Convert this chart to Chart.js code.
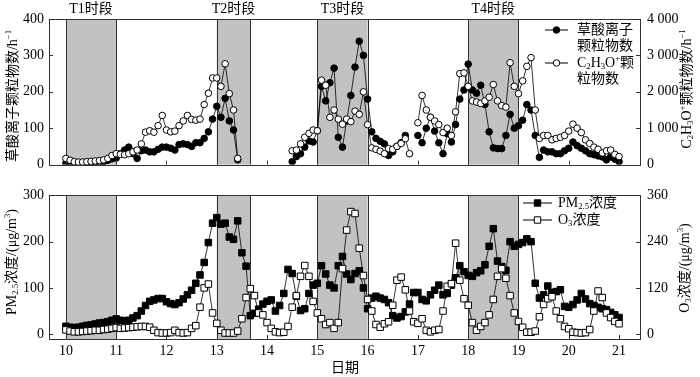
<!DOCTYPE html>
<html lang="zh">
<head>
<meta charset="UTF-8">
<title>草酸离子颗粒物数与PM2.5、O3浓度</title>
<script src="https://cdn.jsdelivr.net/npm/chart.js"></script>
<style>
  body { margin: 0; background: #fff; }
  #wrap { position: relative; width: 700px; height: 377px; }
  #topBox { position: absolute; left: 0; top: 0; width: 700px; height: 180px; }
  #botBox { position: absolute; left: 0; top: 180px; width: 700px; height: 197px; }
</style>
</head>
<body>
<div id="wrap">
  <div id="topBox"><canvas id="topChart"></canvas></div>
  <div id="botBox"><canvas id="botChart"></canvas></div>
</div>
<script>
const FAMILY = '"Liberation Serif", "Times New Roman", "Noto Sans CJK SC", serif';

// sampling: every 2 h from day 10 to day 21
const sampleDays = [10, 11, 12, 13, 14, 15, 16, 17, 18, 19, 20];
const sampleHours = [0, 2, 4, 6, 8, 10, 12, 14, 16, 18, 20, 22];
const lastTime = 21;

const dayTicks = [10, 11, 12, 13, 14, 15, 16, 17, 18, 19, 20, 21];
const periodStart = [10, 13, 15, 18];
const periodEnd = [11, 13.67, 16, 19];
const periodNames = ['T1时段', 'T2时段', 'T3时段', 'T4时段'];

const topLeftTicks = [0, 100, 200, 300, 400];
const topRightTicks = [0, 1000, 2000, 3000, 4000];
const botLeftTicks = [0, 100, 200, 300];
const botRightTicks = [0, 120, 240, 360];

// 草酸离子颗粒物数 /h-1 (left axis, top)
const oxalate = [
  4, 3, 3, 3, 4, 4, 5, 5, 6, 8, 12, 16,
  18, 30, 40, 48, 30, 17, 38, 40, 35, 35, 42, 48,
  48, 45, 40, 55, 57, 55, 50, 60, 60, 72, 90, 125,
  160, 130, 182, 120, 95, 13, null, null, null, null, null, null,
  null, null, null, null, null, null, 8, 22, 30, 48, 65, 62,
  93, 215, 175, 225, 265, 75, 48, 120, 190, 268, 339, 300,
  180, 90, 72, 64, 57, 25, 35, 50, 60, 80, null, null,
  80, 60, 100, 130, 92, 60, 30, 85, 62, 110, 180, 205,
  276, 205, 196, 218, 165, 90, 46, 44, 44, 80, 138, 100,
  107, 122, 165, 150, 80, 20, 40, 35, 35, 30, 30, 38,
  45, 62, 52, 45, 38, 30, 27, 24, 21, 13, 21, 15,
  8
];

// C2H3O+ 颗粒物数 /h-1 (right axis, top)
const c2h3o = [
  170, 120, 80, 70, 70, 80, 90, 100, 110, 130, 170, 250,
  300, 280, 270, 300, 350, 400, 570, 890, 930, 890, 1070, 1350,
  950, 900, 920, 1070, 1200, 1350, 1240, 1220, 1250, 1650, 1960, 2380,
  2380, 2150, 2770, 1950, 1500, 170, null, null, null, null, null, null,
  null, null, null, null, null, null, 380, 400, 570, 750, 860, 950,
  930, 2320, 2180, 1300, 1500, 1250, 1110, 1250, 1180, 1470, 1380, 2000,
  1100, 460, 420, 370, 300, 440, 420, 500, 580, 710, 300, null,
  1150, 1900, 1500, 1300, 1200, 1100, 880, 1000, 800, 1450, 2500, 2520,
  2150, 1750, 1720, 1680, 1750, 1850, 2200, 1750, 1620, 1580, 2800, 2150,
  1950, 2300, 2700, 2940, 1500, 720, 800, 800, 680, 720, 750, 800,
  920, 1110, 1000, 880, 680, 580, 480, 420, 320, 380, 400, 280,
  220
];

// PM2.5 浓度 μg/m3 (left axis, bottom)
const pm25 = [
  17, 15, 14, 15, 17, 19, 20, 22, 24, 25, 27, 30,
  33, 30, 29, 30, 35, 40, 50, 62, 71, 74, 77, 77,
  70, 66, 64, 68, 76, 85, 95, 110, 128, 155, 198, 240,
  252, 238, 240, 210, 205, 245, 176, 147, 40, 45, 54, 65,
  71, 74, 50, 62, 88, 140, 131, 82, 51, 55, 88, 106,
  110, 148, 130, 106, 100, 148, 168, 130, 118, 131, 137, 100,
  55, 78, 82, 78, 75, 68, 40, 35, 38, 48, 65, 90,
  90, 75, 72, 85, 95, 106, 85, 88, 106, 122, 148, 135,
  127, 125, 133, 137, 150, 190, 228, 158, 146, 138, 200, 190,
  194, 198, 206, 200, 110, 78, 85, 104, 90, 92, 96, 60,
  58, 64, 74, 88, 76, 66, 62, 58, 55, 53, 47, 42,
  36
];

// O3 浓度 μg/m3 (right axis, bottom)
const o3 = [
  11, 8, 6, 6, 7, 8, 9, 10, 10, 12, 13, 15,
  17, 15, 16, 17, 18, 19, 20, 20, 18, 10, 4, 3,
  3, 4, 10, 4, 3, 4, 15, 22, 70, 120, 130, 55,
  28, 10, 3, 3, 3, 8, 40, 95, 118, 100, 55, 50,
  30, 15, 6, 4, 5, 20, 70, 100, 150, 178, 150, 85,
  55, 40, 25, 30, 15, 30, 170, 270, 318, 313, 223, 152,
  90, 60, 25, 18, 27, 32, 75, 140, 148, 115, 60, 32,
  28, 40, 10, 6, 10, 12, 60, 124, 131, 236, 140, 92,
  75, 30, 10, 20, 30, 50, 90, 150, 170, 145, 100, 55,
  33, 18, 5, 5, 8, 45, 77, 92, 97, 60, 40, 20,
  14, 5, 4, 3, 4, 12, 60, 112, 95, 55, 43, 33,
  27
];

const times = [];
sampleDays.forEach(d => sampleHours.forEach(h => times.push(d + h / 24)));
times.push(lastTime);
const pts = arr => arr.map((v, i) => ({ x: times[i], y: v }));

const X_MIN = 9.664, X_MAX = 21.417;
const tickFont = { family: FAMILY, size: 14 };

// draws text with sub/superscript pieces: [text, 0 normal | 1 sub | 2 sup]
function rich(ctx, parts, x, y, size, rotate, align) {
  const fontOf = m => (m ? size * 0.62 : size) + 'px ' + FAMILY;
  let w = 0;
  parts.forEach(([t, m]) => { ctx.font = fontOf(m); w += ctx.measureText(t).width; });
  ctx.save();
  ctx.translate(x, y);
  if (rotate) ctx.rotate(-Math.PI / 2);
  ctx.fillStyle = '#000';
  ctx.textBaseline = 'middle';
  ctx.textAlign = 'left';
  let cx = align === 'left' ? 0 : -w / 2;
  parts.forEach(([t, m]) => {
    ctx.font = fontOf(m);
    const dy = m === 1 ? size * 0.3 : m === 2 ? -size * 0.32 : 0;
    ctx.fillText(t, cx, dy);
    cx += ctx.measureText(t).width;
  });
  ctx.restore();
}

function marker(ctx, x, y, style, filled) {
  ctx.save();
  ctx.fillStyle = filled ? '#000' : '#fff';
  ctx.strokeStyle = '#000';
  ctx.lineWidth = 1;
  ctx.beginPath();
  if (style === 'circle') ctx.arc(x, y, 3.3, 0, Math.PI * 2);
  else ctx.rect(x - 3.2, y - 3.2, 6.4, 6.4);
  ctx.fill();
  ctx.stroke();
  ctx.restore();
}

const decor = {
  id: 'decor',
  beforeDatasetsDraw(chart, args, o) {
    const { ctx, chartArea: a, scales: { x } } = chart;
    ctx.save();
    ctx.fillStyle = '#c2c2c2';
    periodStart.forEach((s, i) => {
      const x1 = x.getPixelForValue(s), x2 = x.getPixelForValue(periodEnd[i]);
      ctx.fillRect(x1, a.top, x2 - x1, a.bottom - a.top);
    });
    ctx.strokeStyle = '#333';
    ctx.lineWidth = 1;
    periodStart.forEach((s, i) => {
      [s, periodEnd[i]].forEach(v => {
        const px = Math.round(x.getPixelForValue(v)) + 0.5;
        ctx.beginPath(); ctx.moveTo(px, a.top); ctx.lineTo(px, a.bottom); ctx.stroke();
      });
    });
    ctx.restore();
  },
  afterDraw(chart, args, o) {
    const { ctx, chartArea: a, scales } = chart;
    ctx.save();
    ctx.strokeStyle = '#333';
    ctx.lineWidth = 1;
    ctx.strokeRect(Math.round(a.left) + 0.5, Math.round(a.top) + 0.5,
      Math.round(a.right - a.left), Math.round(a.bottom - a.top));
    ctx.beginPath();
    dayTicks.forEach(d => {
      const px = Math.round(scales.x.getPixelForValue(d)) + 0.5;
      ctx.moveTo(px, a.bottom); ctx.lineTo(px, a.bottom - 4);
    });
    o.leftTicks.forEach(v => {
      const py = Math.round(scales.yL.getPixelForValue(v)) + 0.5;
      ctx.moveTo(a.left, py); ctx.lineTo(a.left + 4, py);
    });
    o.rightTicks.forEach(v => {
      const py = Math.round(scales.yR.getPixelForValue(v)) + 0.5;
      ctx.moveTo(a.right, py); ctx.lineTo(a.right - 4, py);
    });
    ctx.stroke();
    ctx.restore();

    o.titles.forEach(t => rich(ctx, t.parts, t.x, t.y, t.size || 14, t.rotate, t.align));

    if (o.periodLabels) {
      periodStart.forEach((s, i) => {
        const cx = scales.x.getPixelForValue((s + periodEnd[i]) / 2);
        rich(ctx, [[periodNames[i], 0]], cx, 9, 14, false);
      });
    }

    o.legend.forEach(row => {
      ctx.save();
      ctx.strokeStyle = '#000';
      ctx.lineWidth = 1;
      ctx.beginPath(); ctx.moveTo(row.x1, row.y); ctx.lineTo(row.x2, row.y); ctx.stroke();
      ctx.restore();
      marker(ctx, (row.x1 + row.x2) / 2, row.y, row.style, row.filled);
      row.lines.forEach((parts, k) => rich(ctx, parts, row.tx, row.y + k * 16, 14, false, 'left'));
    });
  }
};

function yAxis(pos, min, max, list, width, pad, cb) {
  return {
    type: 'linear', position: pos, min: min, max: max,
    afterBuildTicks: s => { s.ticks = list.map(v => ({ value: v })); },
    afterFit: s => { s.width = width; },
    grid: { display: false, drawTicks: false },
    border: { display: false },
    ticks: { font: tickFont, color: '#000', padding: pad, callback: cb || (v => String(v)) }
  };
}

function series(data, axis, style, filled, r) {
  return {
    data: pts(data), yAxisID: axis,
    borderColor: '#000', borderWidth: 0.8, tension: 0, spanGaps: false,
    pointStyle: style, pointRadius: r, pointHoverRadius: r,
    pointBackgroundColor: filled ? '#000' : '#fff',
    pointBorderColor: '#000', pointBorderWidth: 1
  };
}

const thousands = v => v === 0 ? '0' : (v / 1000) + ' 000';

new Chart(document.getElementById('topChart'), {
  type: 'line',
  data: {
    datasets: [
      series(c2h3o, 'yR', 'circle', false, 3.3),
      series(oxalate, 'yL', 'circle', true, 3.3)
    ]
  },
  options: {
    responsive: true, maintainAspectRatio: false, animation: false, devicePixelRatio: 1,
    layout: { padding: { top: 19, left: 0, right: 0, bottom: 0 } },
    scales: {
      x: {
        type: 'linear', min: X_MIN, max: X_MAX,
        afterBuildTicks: s => { s.ticks = dayTicks.map(v => ({ value: v })); },
        afterFit: s => { s.height = 12; },
        grid: { display: false, drawTicks: false }, border: { display: false },
        ticks: { display: false }
      },
      yL: yAxis('left', 0, 400, topLeftTicks, 49, 5),
      yR: yAxis('right', 0, 4000, topRightTicks, 60, 7, thousands)
    },
    plugins: {
      legend: { display: false }, tooltip: { enabled: false },
      decor: {
        leftTicks: topLeftTicks, rightTicks: topRightTicks, periodLabels: true,
        titles: [
          { parts: [['草酸离子颗粒物数/h', 0], ['−1', 2]], x: 13, y: 96, rotate: true },
          { parts: [['C', 0], ['2', 1], ['H', 0], ['3', 1], ['O', 0], ['+', 2], ['颗粒物数/h', 0], ['−1', 2]], x: 687, y: 89, rotate: true }
        ],
        legend: [
          { x1: 545, x2: 568, y: 30, style: 'circle', filled: true, tx: 577,
            lines: [[['草酸离子', 0]], [['颗粒物数', 0]]] },
          { x1: 545, x2: 568, y: 63, style: 'circle', filled: false, tx: 577,
            lines: [[['C', 0], ['2', 1], ['H', 0], ['3', 1], ['O', 0], ['+', 2], ['颗', 0]], [['粒物数', 0]]] }
        ]
      }
    }
  },
  plugins: [decor]
});

new Chart(document.getElementById('botChart'), {
  type: 'line',
  data: {
    datasets: [
      series(o3, 'yR', 'rect', false, 4.6),
      series(pm25, 'yL', 'rect', true, 4.6)
    ]
  },
  options: {
    responsive: true, maintainAspectRatio: false, animation: false, devicePixelRatio: 1,
    layout: { padding: { top: 10, left: 0, right: 0, bottom: 0 } },
    scales: {
      x: {
        type: 'linear', min: X_MIN, max: X_MAX,
        afterBuildTicks: s => { s.ticks = dayTicks.map(v => ({ value: v })); },
        afterFit: s => { s.height = 38; },
        grid: { display: false, drawTicks: false }, border: { display: false },
        ticks: { font: tickFont, color: '#000', padding: 4, maxRotation: 0, autoSkip: false }
      },
      yL: yAxis('left', -10.5, 300, botLeftTicks, 49, 5),
      yR: yAxis('right', -12.6, 360, botRightTicks, 60, 7)
    },
    plugins: {
      legend: { display: false }, tooltip: { enabled: false },
      decor: {
        leftTicks: botLeftTicks, rightTicks: botRightTicks, periodLabels: false,
        titles: [
          { parts: [['PM', 0], ['2.5', 1], ['浓度/(μg/m', 0], ['3', 2], [')', 0]], x: 12, y: 82, rotate: true },
          { parts: [['O', 0], ['3', 1], ['浓度/(μg/m', 0], ['3', 2], [')', 0]], x: 685, y: 88, rotate: true },
          { parts: [['日期', 0]], x: 345, y: 188, rotate: false }
        ],
        legend: [
          { x1: 523, x2: 552, y: 23, style: 'rect', filled: true, tx: 558,
            lines: [[['PM', 0], ['2.5', 1], ['浓度', 0]]] },
          { x1: 523, x2: 552, y: 40, style: 'rect', filled: false, tx: 558,
            lines: [[['O', 0], ['3', 1], ['浓度', 0]]] }
        ]
      }
    }
  },
  plugins: [decor]
});
</script>
</body>
</html>
